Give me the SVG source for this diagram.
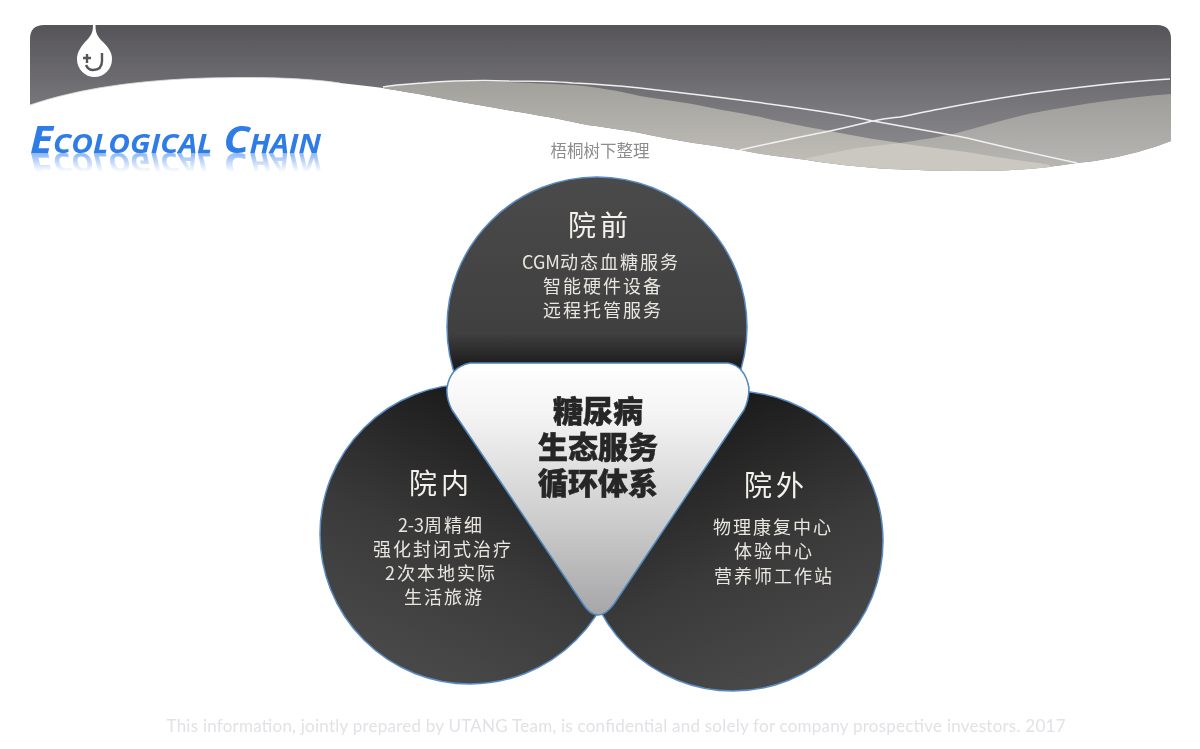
<svg xmlns="http://www.w3.org/2000/svg" xmlns:xlink="http://www.w3.org/1999/xlink" width="1200" height="749" viewBox="0 0 1200 749">
<style>
text{font-family:"Noto Sans CJK SC","Noto Sans",sans-serif;text-anchor:middle}
.h{font-size:28px;fill:#f4f1ec;letter-spacing:4px}
.l{font-size:18px;fill:#e9e6e0;letter-spacing:2px}
.t{letter-spacing:0}
.c{font-size:30px;font-weight:900;fill:#262626;stroke:#262626;stroke-width:.5px}
.disc{stroke:#5a8cc4;stroke-width:1.5}
</style>
<defs>
<filter id="soft" x="-5%" y="-5%" width="110%" height="110%"><feGaussianBlur stdDeviation=".45"/></filter>
<linearGradient id="hdr" gradientUnits="userSpaceOnUse" x1="0" y1="25" x2="0" y2="170"><stop offset="0" stop-color="#565559"/><stop offset="1" stop-color="#929196"/></linearGradient>
<linearGradient id="b1" gradientUnits="userSpaceOnUse" x1="0" y1="83" x2="0" y2="165"><stop offset="0" stop-color="#a3a19c"/><stop offset="1" stop-color="#c0beb7"/></linearGradient>
<linearGradient id="b2" gradientUnits="userSpaceOnUse" x1="0" y1="94" x2="0" y2="165"><stop offset="0" stop-color="#9e9d9a"/><stop offset="1" stop-color="#b6b5b1"/></linearGradient>
<linearGradient id="gt" x1="0" y1="0" x2="0" y2="1"><stop offset="0" stop-color="#4a4a4a"/><stop offset=".52" stop-color="#404040"/><stop offset=".62" stop-color="#1f1f1f"/><stop offset="1" stop-color="#1f1f1f"/></linearGradient>
<linearGradient id="gl" x1=".75" y1=".05" x2=".35" y2=".95"><stop offset="0" stop-color="#161616"/><stop offset=".6" stop-color="#3a3a3a"/><stop offset="1" stop-color="#484848"/></linearGradient>
<linearGradient id="gr" x1=".25" y1=".05" x2=".65" y2=".95"><stop offset="0" stop-color="#161616"/><stop offset=".6" stop-color="#3a3a3a"/><stop offset="1" stop-color="#484848"/></linearGradient>
<linearGradient id="gc" x1="0" y1="0" x2="0" y2="1"><stop offset="0" stop-color="#ffffff"/><stop offset=".2" stop-color="#f4f4f4"/><stop offset=".6" stop-color="#cfcfcf"/><stop offset="1" stop-color="#a6a6a8"/></linearGradient>
<linearGradient id="rf" gradientUnits="userSpaceOnUse" x1="0" y1="153" x2="0" y2="172"><stop offset="0" stop-color="#fff" stop-opacity=".55"/><stop offset="1" stop-color="#fff" stop-opacity="0"/></linearGradient>
<mask id="rfm" maskUnits="userSpaceOnUse" x="0" y="150" width="400" height="30"><rect x="0" y="150" width="400" height="30" fill="url(#rf)"/></mask>
<text id="title" x="30" y="153" style="text-anchor:start;font-family:'Open Sans',sans-serif;font-size:37px;font-weight:700;font-style:italic;font-variant:small-caps;fill:#2f7be6" textLength="291" lengthAdjust="spacingAndGlyphs">Ecological Chain</text>
</defs>
<rect width="1200" height="749" fill="#fff"/>
<g id="header" filter="url(#soft)">
<path d="M30 105V39Q30 25 44 25H1157Q1171 25 1171 39V141C1135 155 1100 161 1077 163C1040 169 1005 171 967 171C945 171 915 170 890 169C860 167 830 164 807 160C785 157 762 155 740 150C710 145 675 141 640 133C615 128 595 127 573 122C550 117 530 114 507 110C485 106 460 102 440 98C420 94 400 91 383 88C370 86 355 85 340 83C300 77 250 77 207 78C140 80 80 88 30 105Z" fill="url(#hdr)"/>
<path d="M383 88C395 85 410 84 423 83C450 81 490 81 530 83C545 84 560 84 573 85C595 87 620 91 640 96C665 100 685 102 707 107C730 112 750 114 773 120C795 125 820 129 840 133C860 137 880 140 900 143C925 147 945 149 967 152C995 157 1025 161 1050 165L1050 167C1020 170 1005 171 967 171C945 171 915 170 890 169C860 167 830 164 807 160C785 157 762 155 740 150C710 145 675 141 640 133C615 128 595 127 573 122C550 117 530 114 507 110C485 106 460 102 440 98C420 94 400 91 383 88Z" fill="url(#b1)"/>
<path d="M803 159C820 155 840 151 857 148C870 146 885 145 900 143C920 140 940 137 957 133C980 127 1010 118 1033 113C1080 104 1130 97 1171 94V141C1135 155 1100 161 1077 163C1040 169 1005 171 967 171C945 171 915 170 890 169C860 167 830 164 803 159Z" fill="url(#b2)"/>
<path d="M803 159C820 155 840 151 857 148C870 146 885 145 900 143C925 147 945 149 967 152C995 157 1025 161 1050 165L1050 167C1020 170 1005 171 967 171C945 171 915 170 890 169C860 167 830 164 803 159Z" fill="#cac8c1"/>
<path d="M383 87C395 85 410 84 423 83C450 81 480 80 507 81C530 81 552 81 573 83C595 84 620 86 640 88C675 92 710 96 740 100C785 106 835 112 873 121C895 125 918 129 940 133C950 135 958 136 967 138C1000 146 1040 155 1077 163M740 150C770 143 800 137 830 131C845 128 860 124 873 121C885 118 890 118 900 117C915 114 928 111 940 109C970 103 1000 98 1033 93C1080 87 1130 81 1170 79" fill="none" stroke="#f0f0f0" stroke-width="1.5"/>
<path d="M30 105C80 88 140 80 207 78C250 77 300 77 340 83" fill="none" stroke="#dcdcdc" stroke-width=".8"/>
</g>
<g id="logo" filter="url(#soft)">
<path d="M93 25H95.5C95.5 33 97 36 103 42C109 48 112 53 112 59A17.5 18 0 0 1 77 59C77 53 80 48 85 42C91 36 93 33 93 25Z" fill="#fff"/>
<path d="M87 54V63M83 58H91M102 53V61Q102 70 93 70Q88 70 86 65" fill="none" stroke="#55545a" stroke-width="2.4"/>
</g>
<g id="title-group" filter="url(#soft)">
<use xlink:href="#title" href="#title"/>
<g mask="url(#rfm)"><use xlink:href="#title" href="#title" transform="matrix(1 0 0 -1 0 306)"/></g>
</g>
<text id="credit" x="600" y="157" style="font-size:16.5px;fill:#8c8c8c" filter="url(#soft)">梧桐树下整理</text>
<g id="node-top"><circle class="disc" cx="597" cy="327" r="150" fill="url(#gt)"/>
<g filter="url(#soft)"><text class="h" x="600" y="236">院前</text>
<text class="l" x="601" y="269"><tspan class="t">CGM</tspan>动态血糖服务</text>
<text class="l" x="603" y="293">智能硬件设备</text>
<text class="l" x="603" y="317">远程托管服务</text></g></g>
<g id="node-left"><circle class="disc" cx="470" cy="534" r="150" fill="url(#gl)"/>
<g filter="url(#soft)"><text class="h" x="441" y="494">院内</text>
<text class="l" x="441" y="532"><tspan class="t">2-3</tspan>周精细</text>
<text class="l" x="443" y="556">强化封闭式治疗</text>
<text class="l" x="441" y="580">2次本地实际</text>
<text class="l" x="444" y="604">生活旅游</text></g></g>
<g id="node-right"><circle class="disc" cx="733" cy="541" r="150" fill="url(#gr)"/>
<g filter="url(#soft)"><text class="h" x="776" y="496">院外</text>
<text class="l" x="773" y="534">物理康复中心</text>
<text class="l" x="774" y="558">体验中心</text>
<text class="l" x="774" y="583">营养师工作站</text></g></g>
<g id="node-center"><path d="M470 363H728Q745 366 749 388Q749 400 744 410L614 604Q606 615 598 615Q590 615 583 604L452 410Q446 398 447 388Q450 367 470 363Z" fill="url(#gc)" stroke="#4f86bd" stroke-width="1.5"/>
<text class="c" filter="url(#soft)"><tspan x="598" y="422">糖尿病</tspan><tspan x="598" y="458">生态服务</tspan><tspan x="598" y="494">循环体系</tspan></text></g>
<g id="connectors"/>
<text id="footer" x="616" y="732" style="font-family:Lato,sans-serif;font-size:17px;fill:#e2e2e6" textLength="899" filter="url(#soft)">This information, jointly prepared by UTANG Team, is confidential and solely for company prospective investors. 2017</text>
</svg>
